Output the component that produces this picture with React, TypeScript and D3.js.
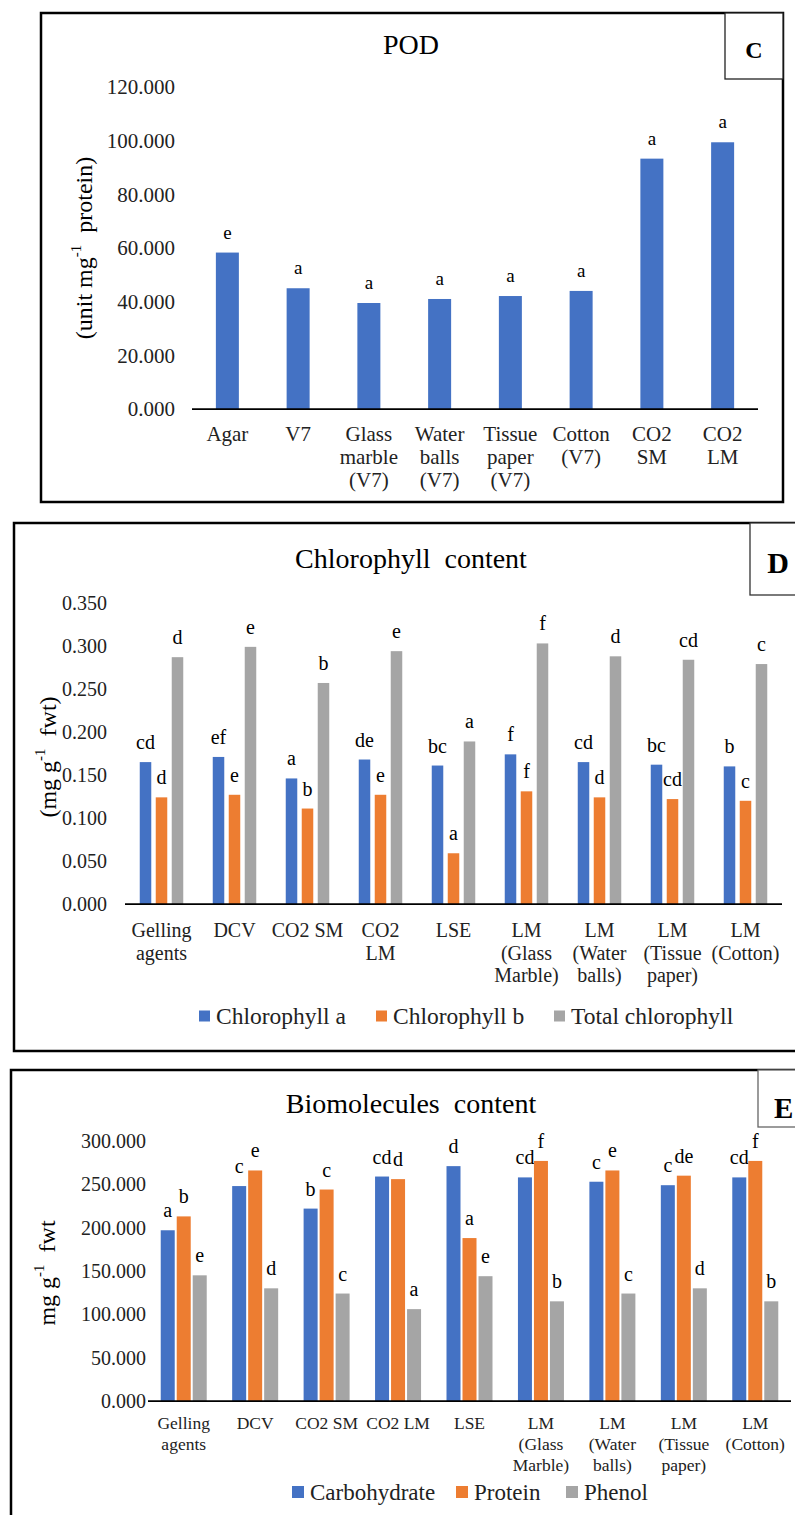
import React from "react";
import * as d3 from "d3";

// ---- panel C : POD ----
const podCategories = ["Agar", "V7", "Glass marble (V7)", "Water balls (V7)", "Tissue paper (V7)", "Cotton (V7)", "CO2 SM", "CO2 LM"];
const podTickLabels = [["Agar"], ["V7"], ["Glass", "marble", "(V7)"], ["Water", "balls", "(V7)"], ["Tissue", "paper", "(V7)"], ["Cotton", "(V7)"], ["CO2", "SM"], ["CO2", "LM"]];
const podValues = [58.3, 45.0, 39.5, 41.0, 42.1, 44.0, 93.3, 99.4];
const podLetters = ["e", "a", "a", "a", "a", "a", "a", "a"];
const podTicks = [0, 20, 40, 60, 80, 100, 120];

// ---- panel D : chlorophyll ----
const chlCategories = ["Gelling agents", "DCV", "CO2 SM", "CO2 LM", "LSE", "LM (Glass Marble)", "LM (Water balls)", "LM (Tissue paper)", "LM (Cotton)"];
const chlTickLabels = [["Gelling", "agents"], ["DCV"], ["CO2 SM"], ["CO2", "LM"], ["LSE"], ["LM", "(Glass", "Marble)"], ["LM", "(Water", "balls)"], ["LM", "(Tissue", "paper)"], ["LM", "(Cotton)"]];
const chlA = [0.165, 0.171, 0.146, 0.168, 0.161, 0.174, 0.165, 0.162, 0.160];
const chlB = [0.124, 0.127, 0.111, 0.127, 0.059, 0.131, 0.124, 0.122, 0.120];
const chlTotal = [0.287, 0.299, 0.257, 0.294, 0.189, 0.303, 0.288, 0.284, 0.279];
const chlALetters = ["cd", "ef", "a", "de", "bc", "f", "cd", "bc", "b"];
const chlBLetters = ["d", "e", "b", "e", "a", "f", "d", "cd", "c"];
const chlTotalLetters = ["d", "e", "b", "e", "a", "f", "d", "cd", "c"];
const chlTicks = [0, 0.05, 0.1, 0.15, 0.2, 0.25, 0.3, 0.35];

// ---- panel E : biomolecules ----
const bioCategories = ["Gelling agents", "DCV", "CO2 SM", "CO2 LM", "LSE", "LM (Glass Marble)", "LM (Water balls)", "LM (Tissue paper)", "LM (Cotton)"];
const bioTickLabels = [["Gelling", "agents"], ["DCV"], ["CO2 SM"], ["CO2 LM"], ["LSE"], ["LM", "(Glass", "Marble)"], ["LM", "(Water", "balls)"], ["LM", "(Tissue", "paper)"], ["LM", "(Cotton)"]];
const carbohydrate = [197, 248, 222, 259, 271, 258, 253, 249, 258];
const protein = [213, 266, 244, 256, 188, 277, 266, 260, 277];
const phenol = [145, 130, 124, 106, 144, 115, 124, 130, 115];
const carbLetters = ["a", "c", "b", "cd", "d", "cd", "c", "c", "cd"];
const protLetters = ["b", "e", "c", "d", "a", "f", "e", "de", "f"];
const phenLetters = ["e", "d", "c", "a", "e", "b", "c", "d", "b"];
const bioTicks = [0, 50, 100, 150, 200, 250, 300];

const BLUE = "#4472C4";
const ORANGE = "#ED7D31";
const GREY = "#A5A5A5";
const FONT = "'Liberation Serif', 'Times New Roman', serif";

type Series = { name: string; color: string; values: number[]; letters: string[] };

type PanelProps = {
  frame: [number, number, number, number];
  tag: { rect: [number, number, number, number]; letter: string; x: number; y: number; size: number; anchor: string; stroke: string };
  title: string;
  titleY: number;
  categories: string[];
  tickLabels: string[][];
  series: Series[];
  yMax: number;
  yTicks: number[];
  yRange: [number, number];
  xRange: [number, number];
  groupWidth: number;
  barPad: number;
  tickRight: number;
  tickFont: number;
  labelY: number;
  labelLine: number;
  labelFont: number;
  letterFont: number;
  letterGap: number;
  yTitle: [string, string, string];
  yTitlePos: [number, number];
  legend?: { y: number; size: number; font: number; xs: number[] };
};

const Panel = (p: PanelProps) => {
  const y = d3.scaleLinear().domain([0, p.yMax]).range(p.yRange);
  const x0 = d3.scaleBand<string>().domain(p.categories).range(p.xRange).padding(0);
  const x1 = d3
    .scaleBand<string>()
    .domain(p.series.map((s) => s.name))
    .range([0, p.groupWidth])
    .paddingInner(p.barPad);
  const off = (x0.bandwidth() - p.groupWidth) / 2;
  const fmt = d3.format(".3f");
  const base = y(0);

  return (
    <g style={{ fontFamily: FONT }}>
      <rect x={p.frame[0]} y={p.frame[1]} width={p.frame[2]} height={p.frame[3]} fill="none" stroke="#000" strokeWidth={2.5} />
      <rect x={p.tag.rect[0]} y={p.tag.rect[1]} width={p.tag.rect[2]} height={p.tag.rect[3]} fill="#fff" stroke={p.tag.stroke} strokeWidth={1.3} />
      <text x={p.tag.x} y={p.tag.y} fontSize={p.tag.size} fontWeight="bold" textAnchor={p.tag.anchor}>
        {p.tag.letter}
      </text>
      <text x={411} y={p.titleY} fontSize={28} textAnchor="middle" style={{ whiteSpace: "pre" }}>
        {p.title}
      </text>

      {/* y tick labels */}
      {p.yTicks.map((t) => (
        <text key={t} x={p.tickRight} y={y(t)} dy="0.35em" fontSize={p.tickFont} textAnchor="end" fill="#222">
          {fmt(t)}
        </text>
      ))}

      {/* y title */}
      <text
        transform={`translate(${p.yTitlePos[0]},${p.yTitlePos[1]}) rotate(-90)`}
        fontSize={24}
        textAnchor="middle"
        dominantBaseline="central"
        style={{ whiteSpace: "pre" }}
      >
        {p.yTitle[0]}
        <tspan dy={-8} fontSize={15}>{p.yTitle[1]}</tspan>
        <tspan dy={8}>{p.yTitle[2]}</tspan>
      </text>

      {/* bars + letters */}
      {p.categories.map((c, i) => (
        <g key={c} transform={`translate(${(x0(c) ?? 0) + off},0)`}>
          {p.series.map((s) => {
            const v = s.values[i];
            const bx = x1(s.name) ?? 0;
            return (
              <g key={s.name}>
                <rect x={bx} y={y(v)} width={x1.bandwidth()} height={base - y(v)} fill={s.color} />
                <text x={bx + x1.bandwidth() / 2} y={y(v) - p.letterGap} fontSize={p.letterFont} textAnchor="middle">
                  {s.letters[i]}
                </text>
              </g>
            );
          })}
        </g>
      ))}

      {/* x axis */}
      <line x1={p.xRange[0]} x2={p.xRange[1]} y1={base} y2={base} stroke="#000" strokeWidth={1.75} />
      {p.categories.map((c, i) => (
        <text key={c} x={(x0(c) ?? 0) + x0.bandwidth() / 2} fontSize={p.labelFont} textAnchor="middle" fill="#222">
          {p.tickLabels[i].map((line, j) => (
            <tspan key={j} x={(x0(c) ?? 0) + x0.bandwidth() / 2} y={p.labelY + j * p.labelLine} dy="0.35em">
              {line}
            </tspan>
          ))}
        </text>
      ))}

      {/* legend */}
      {p.legend &&
        p.series.map((s, i) => (
          <g key={s.name}>
            <rect x={p.legend!.xs[i]} y={p.legend!.y - p.legend!.size / 2} width={p.legend!.size} height={p.legend!.size} fill={s.color} />
            <text x={p.legend!.xs[i] + p.legend!.size + 6} y={p.legend!.y} dy="0.35em" fontSize={p.legend!.font} fill="#222">
              {s.name}
            </text>
          </g>
        ))}
    </g>
  );
};

export default function App() {
  return (
    <svg width={795} height={1515} style={{ position: "absolute", left: 0, top: 0, background: "#fff" }}>
      <rect width={795} height={1515} fill="#fff" />
      <Panel
        frame={[41, 13, 742, 489]}
        tag={{ rect: [725, 13, 58, 66], letter: "C", x: 754, y: 58, size: 24, anchor: "middle", stroke: "#222" }}
        title="POD"
        titleY={54}
        categories={podCategories}
        tickLabels={podTickLabels}
        series={[{ name: "POD", color: BLUE, values: podValues, letters: podLetters }]}
        yMax={120}
        yTicks={podTicks}
        yRange={[409, 87]}
        xRange={[192, 758]}
        groupWidth={23}
        barPad={0}
        tickRight={175}
        tickFont={21}
        labelY={434}
        labelLine={23}
        labelFont={21}
        letterFont={19}
        letterGap={14}
        yTitle={["(unit mg", "-1", "  protein)"]}
        yTitlePos={[84, 248]}
      />
      <Panel
        frame={[14, 523, 800, 528]}
        tag={{ rect: [750, 523, 60, 72], letter: "D", x: 778, y: 573, size: 30, anchor: "middle", stroke: "#333" }}
        title="Chlorophyll  content"
        titleY={568}
        categories={chlCategories}
        tickLabels={chlTickLabels}
        series={[
          { name: "Chlorophyll a", color: BLUE, values: chlA, letters: chlALetters },
          { name: "Chlorophyll b", color: ORANGE, values: chlB, letters: chlBLetters },
          { name: "Total chlorophyll", color: GREY, values: chlTotal, letters: chlTotalLetters },
        ]}
        yMax={0.35}
        yTicks={chlTicks}
        yRange={[904, 603]}
        xRange={[125, 782]}
        groupWidth={43.5}
        barPad={0.28}
        tickRight={107}
        tickFont={20}
        labelY={930}
        labelLine={22.5}
        labelFont={20}
        letterFont={20}
        letterGap={13}
        yTitle={["(mg g", "-1", "  fwt)"]}
        yTitlePos={[48, 757]}
        legend={{ y: 1016, size: 11, font: 23.5, xs: [199, 376, 554] }}
      />
      <Panel
        frame={[11, 1070, 800, 500]}
        tag={{ rect: [758, 1070, 60, 57], letter: "E", x: 774, y: 1118, size: 29, anchor: "start", stroke: "#666" }}
        title="Biomolecules  content"
        titleY={1113}
        categories={bioCategories}
        tickLabels={bioTickLabels}
        series={[
          { name: "Carbohydrate", color: BLUE, values: carbohydrate, letters: carbLetters },
          { name: "Protein", color: ORANGE, values: protein, letters: protLetters },
          { name: "Phenol", color: GREY, values: phenol, letters: phenLetters },
        ]}
        yMax={300}
        yTicks={bioTicks}
        yRange={[1401, 1141]}
        xRange={[148, 791]}
        groupWidth={46}
        barPad={0.125}
        tickRight={146}
        tickFont={20}
        labelY={1423}
        labelLine={21}
        labelFont={17.5}
        letterFont={20}
        letterGap={13}
        yTitle={["mg g", "-1", "  fwt"]}
        yTitlePos={[47, 1273]}
        legend={{ y: 1492, size: 12, font: 23, xs: [292, 456, 566] }}
      />
    </svg>
  );
}
